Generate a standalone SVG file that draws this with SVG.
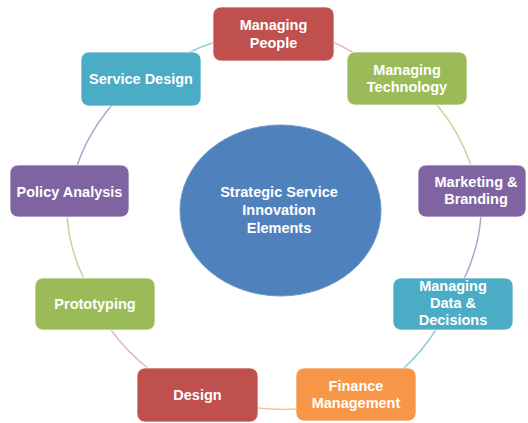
<svg xmlns="http://www.w3.org/2000/svg" width="528" height="423" viewBox="0 0 528 423">
<style>
.box{stroke:#ffffff;stroke-opacity:0.7;stroke-width:1}
.t{font-family:"Liberation Sans",Arial,sans-serif;font-weight:bold;font-size:14.5px;fill:#ffffff;text-anchor:middle}
.c{fill:none;stroke-width:1.5}
</style>
<rect width="528" height="423" fill="#ffffff"/>
<g id="connectors">
<path class="c" stroke="#93CDDD" d="M186,54 A207,188 0 0 1 215,42"/>
<path class="c" stroke="#E6B9B8" d="M333,42 A207,188 0 0 1 354,53"/>
<path class="c" stroke="#C3D69B" d="M436,104 A207,188 0 0 1 471,166"/>
<path class="c" stroke="#B3A2C7" d="M481,215 A207,188 0 0 1 464,279"/>
<path class="c" stroke="#93CDDD" d="M437,328 A207,188 0 0 1 403,369"/>
<path class="c" stroke="#FAC090" d="M297,409 A207,188 0 0 1 257,408"/>
<path class="c" stroke="#E6B9B8" d="M149,369 A207,188 0 0 1 111,330"/>
<path class="c" stroke="#C3D69B" d="M84,279 A207,188 0 0 1 67,215"/>
<path class="c" stroke="#B3A2C7" d="M77,166 A207,188 0 0 1 113,104"/>
</g>
<g id="center">
<ellipse cx="280.5" cy="210.5" rx="100.5" ry="85.5" fill="#4F81BD" stroke="#6E97C9" stroke-width="1"/>
<text class="t" x="279" y="197">Strategic Service</text>
<text class="t" x="279" y="215">Innovation</text>
<text class="t" x="279" y="233">Elements</text>
</g>
<g id="managing-people">
<rect class="box" x="213" y="7" width="121" height="54" rx="8" fill="#C0504D"/>
<text class="t" x="273.5" y="30">Managing</text>
<text class="t" x="273.5" y="48">People</text>
</g>
<g id="managing-technology">
<rect class="box" x="347" y="52" width="120" height="53" rx="8" fill="#9BBB59"/>
<text class="t" x="407" y="75">Managing</text>
<text class="t" x="407" y="92">Technology</text>
</g>
<g id="marketing-branding">
<rect class="box" x="418" y="165" width="108" height="52" rx="8" fill="#8064A2"/>
<text class="t" x="476" y="187">Marketing &amp;</text>
<text class="t" x="476" y="204">Branding</text>
</g>
<g id="managing-data">
<rect class="box" x="393" y="278" width="120" height="52" rx="8" fill="#4BACC6"/>
<text class="t" x="453" y="291">Managing</text>
<text class="t" x="453" y="308">Data &amp;</text>
<text class="t" x="453" y="325">Decisions</text>
</g>
<g id="finance-management">
<rect class="box" x="296" y="368" width="120" height="53" rx="8" fill="#F79646"/>
<text class="t" x="356" y="391">Finance</text>
<text class="t" x="356" y="408">Management</text>
</g>
<g id="design">
<rect class="box" x="137" y="368" width="121" height="54" rx="8" fill="#C0504D"/>
<text class="t" x="197.5" y="400">Design</text>
</g>
<g id="prototyping">
<rect class="box" x="35" y="278" width="120" height="52" rx="8" fill="#9BBB59"/>
<text class="t" x="95" y="309">Prototyping</text>
</g>
<g id="policy-analysis">
<rect class="box" x="10" y="165" width="119" height="52" rx="8" fill="#8064A2"/>
<text class="t" x="69.5" y="197">Policy Analysis</text>
</g>
<g id="service-design">
<rect class="box" x="81" y="52" width="120" height="54" rx="8" fill="#4BACC6"/>
<text class="t" x="141" y="84">Service Design</text>
</g>
</svg>
